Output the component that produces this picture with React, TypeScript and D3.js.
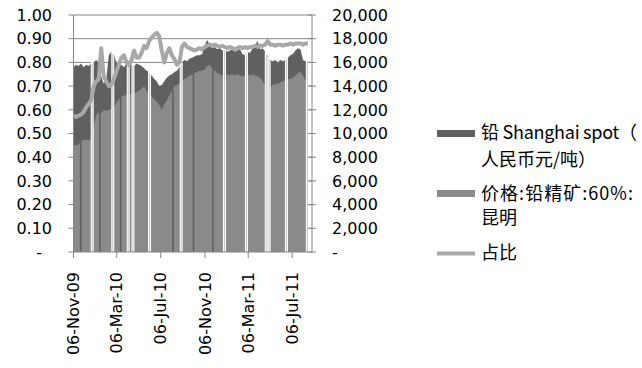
import * as d3 from "d3";

// weekly samples
const dates = [
  "2009-11-06", "2009-11-13", "2009-11-20", "2009-11-27", "2009-12-04", "2009-12-11", "2009-12-18", "2009-12-25",
  "2010-01-01", "2010-01-08", "2010-01-15", "2010-01-22", "2010-01-29", "2010-02-05", "2010-02-12", "2010-02-19",
  "2010-02-26", "2010-03-05", "2010-03-12", "2010-03-19", "2010-03-26", "2010-04-02", "2010-04-09", "2010-04-16",
  "2010-04-23", "2010-04-30", "2010-05-07", "2010-05-14", "2010-05-21", "2010-05-28", "2010-06-04", "2010-06-11",
  "2010-06-18", "2010-06-25", "2010-07-02", "2010-07-09", "2010-07-16", "2010-07-23", "2010-07-30", "2010-08-06",
  "2010-08-13", "2010-08-20", "2010-08-27", "2010-09-03", "2010-09-10", "2010-09-17", "2010-09-24", "2010-10-01",
  "2010-10-08", "2010-10-15", "2010-10-22", "2010-10-29", "2010-11-05", "2010-11-12", "2010-11-19", "2010-11-26",
  "2010-12-03", "2010-12-10", "2010-12-17", "2010-12-24", "2010-12-31", "2011-01-07", "2011-01-14", "2011-01-21",
  "2011-01-28", "2011-02-04", "2011-02-11", "2011-02-18", "2011-02-25", "2011-03-04", "2011-03-11", "2011-03-18",
  "2011-03-25", "2011-04-01", "2011-04-08", "2011-04-15", "2011-04-22", "2011-04-29", "2011-05-06", "2011-05-13",
  "2011-05-20", "2011-05-27", "2011-06-03", "2011-06-10", "2011-06-17", "2011-06-24", "2011-07-01", "2011-07-08",
  "2011-07-15", "2011-07-22", "2011-07-29", "2011-08-05", "2011-08-12", "2011-08-19",
];

// 铅 Shanghai spot (元/吨)
const spot = [
  15600, 15800, 15700, 15900, 15600, 15800, 15700, 15900, 16000, 16200, 16000, 14800, 14200, 14600, 16600, 16900,
  16700, 16000, 15700, 15800, 15600, 15900, 15800, 16000, 15700, 15900, 15800, 15700, 15500, 15300, 15200, 14900,
  14600, 14400, 14000, 14100, 14400, 14700, 14900, 15000, 15200, 15300, 15600, 16000, 16200, 16100, 16300, 16400,
  16500, 16600, 16600, 16700, 17400, 17900, 17500, 17200, 17300, 17100, 17200, 17000, 17100, 16900, 17000, 17100,
  16900, 17000, 17100, 16700, 16600, 16900, 16800, 17200, 17400, 17800, 17100, 17200, 16900, 16600, 16200, 16100,
  16200, 16000, 16200, 16100, 16200, 16400, 16600, 16700, 17000, 17200, 17100, 16200, 16100, 16200,
];

// 价格:铅精矿:60%:昆明
const concentrate = [
  9000, 9000, 9100, 9400, 9400, 9500, 9400, 9600, 10600, 11600, 11800, 11700, 12000, 11900, 12000, 12100,
  12200, 12600, 12900, 13100, 13200, 13300, 13400, 13300, 13400, 13500, 13600, 13800, 14000, 13600, 13300, 13100,
  12900, 12700, 12400, 12000, 12500, 12800, 13200, 13600, 14000, 14100, 14200, 14400, 14600, 14700, 14900, 15000,
  15100, 15200, 15300, 15300, 15400, 15700, 15800, 15500, 15300, 15100, 15000, 14900, 14900, 15000, 14900, 15000,
  14900, 15000, 14900, 14800, 14900, 15000, 14900, 15000, 14900, 14800, 14700, 14400, 14100, 14000, 13900, 14100,
  14200, 14200, 14300, 14400, 14500, 14600, 14600, 14700, 14900, 15100, 15200, 14900, 14500, 14400,
];

// 占比
const ratio = [
  0.575, 0.57, 0.575, 0.58, 0.59, 0.61, 0.625, 0.64, 0.7, 0.72, 0.73, 0.86, 0.74, 0.72, 0.7, 0.705,
  0.73, 0.76, 0.79, 0.82, 0.83, 0.8, 0.79, 0.81, 0.85, 0.82, 0.82, 0.84, 0.87, 0.86, 0.89, 0.905,
  0.915, 0.925, 0.91, 0.85, 0.8, 0.84, 0.86, 0.83, 0.815, 0.79, 0.8, 0.865, 0.88, 0.865, 0.86, 0.855,
  0.85, 0.855, 0.86, 0.855, 0.865, 0.87, 0.875, 0.87, 0.875, 0.87, 0.865, 0.87, 0.865, 0.86, 0.865, 0.86,
  0.855, 0.86, 0.865, 0.86, 0.865, 0.86, 0.865, 0.865, 0.87, 0.865, 0.87, 0.87, 0.875, 0.89, 0.875, 0.875,
  0.87, 0.875, 0.875, 0.87, 0.875, 0.875, 0.88, 0.875, 0.88, 0.88, 0.88, 0.875, 0.88, 0.88,
];

// days with no quote for either series (white gaps) / only the concentrate missing
const gapDates = [
  "2009-12-28", "2010-02-23", "2010-04-07", "2010-04-20", "2010-06-05", "2010-09-01",
  "2010-12-30", "2011-03-01", "2011-04-25", "2011-05-03", "2011-06-20", "2011-08-17",
];
const concGapDates = ["2009-11-26", "2010-01-18", "2010-03-17", "2010-08-09", "2010-10-05", "2010-11-28"];

const tickDates = ["2009-11-06", "2010-03-06", "2010-07-06", "2010-11-06", "2011-03-06", "2011-07-06"];
const leftTicks = [0, 0.1, 0.2, 0.3, 0.4, 0.5, 0.6, 0.7, 0.8, 0.9, 1.0];
const rightTicks = [0, 2000, 4000, 6000, 8000, 10000, 12000, 14000, 16000, 18000, 20000];

const parse = d3.timeParse("%Y-%m-%d");
const fmtDate = d3.timeFormat("%d-%b-%y");

const DARK = "#606060";
const LIGHT = "#8a8a8a";
const LINE = "#a8a8a8";
const GRID = "#868686";
const FONT = "'DejaVu Sans', sans-serif";
const CJK = "'Noto Sans CJK SC', sans-serif";

export default function App() {
  const width = 642, height = 368;
  const plot = { left: 73.5, right: 312, top: 15, bottom: 252 };

  const x = d3.scaleTime()
    .domain([parse("2009-11-06")!, parse("2011-08-30")!])
    .range([plot.left, plot.right]);
  const yL = d3.scaleLinear().domain([0, 1]).range([plot.bottom, plot.top]);
  const yR = d3.scaleLinear().domain([0, 20000]).range([plot.bottom, plot.top]);

  const ds = dates.map((d) => parse(d)!);
  const spotData = ds.map((d, i) => ({ date: d, v: spot[i] }));
  const concData = ds.map((d, i) => ({ date: d, v: concentrate[i] }));
  const ratioData = ds.map((d, i) => ({ date: d, v: ratio[i] }));

  const area = d3.area<{ date: Date; v: number }>()
    .x((d) => x(d.date))
    .y0(yR(0))
    .y1((d) => yR(d.v));
  const line = d3.line<{ date: Date; v: number }>()
    .x((d) => x(d.date))
    .y((d) => yL(d.v));

  const bis = d3.bisector((d: { date: Date }) => d.date).left;
  const valueAt = (data: { date: Date; v: number }[], date: Date) => {
    const i = Math.min(Math.max(bis(data, date), 1), data.length - 1);
    const a = data[i - 1], b = data[i];
    const t = (+date - +a.date) / (+b.date - +a.date);
    return a.v + (b.v - a.v) * Math.max(0, Math.min(1, t));
  };

  return (
    <svg width={width} height={height} style={{ position: "absolute", left: 0, top: 0, background: "#fff" }}>
      {/* gridlines */}
      {leftTicks.slice(1).map((t) => (
        <line key={"g" + t} x1={plot.left} x2={plot.right} y1={yL(t)} y2={yL(t)} stroke={GRID} strokeWidth={1} />
      ))}

      <path d={area(spotData)!} fill={DARK} />
      <path d={area(concData)!} fill={LIGHT} />

      {concGapDates.map((s) => {
        const d = parse(s)!;
        return (
          <rect key={s} x={x(d) - 0.8} width={1.6} y={yR(valueAt(concData, d))}
            height={yR(0) - yR(valueAt(concData, d))} fill={DARK} />
        );
      })}
      {gapDates.map((s) => {
        const d = parse(s)!;
        const top = yR(valueAt(spotData, d)) - 1;
        return (
          <g key={s}>
            <rect x={x(d) - 1.5} width={3} y={top} height={yR(0) - top} fill="#fff" />
            <line x1={x(d)} x2={x(d)} y1={top + 2} y2={yR(0)} stroke="#c4c4c4" strokeWidth={1} />
          </g>
        );
      })}

      <path d={line(ratioData)!} fill="none" stroke={LINE} strokeWidth={4} strokeLinejoin="round" />

      {/* axes */}
      <line x1={plot.left} x2={plot.left} y1={plot.top} y2={plot.bottom} stroke={GRID} />
      <line x1={plot.right} x2={plot.right} y1={plot.top} y2={plot.bottom} stroke={GRID} />
      <line x1={plot.left} x2={plot.right} y1={plot.bottom} y2={plot.bottom} stroke={GRID} />

      {leftTicks.map((t) => (
        <g key={"l" + t}>
          <line x1={plot.left - 5} x2={plot.left} y1={yL(t)} y2={yL(t)} stroke={GRID} />
          <text x={t === 0 ? 42 : 52} y={yL(t)} dy="0.36em" textAnchor="end" fontFamily={FONT} fontSize={16} fill="#000">
            {t === 0 ? "-" : d3.format(".2f")(t)}
          </text>
        </g>
      ))}
      {rightTicks.map((t) => (
        <g key={"r" + t}>
          <line x1={plot.right - 4} x2={plot.right + 4} y1={yR(t)} y2={yR(t)} stroke={GRID} />
          <text x={332} y={yR(t)} dy="0.36em" textAnchor="start" fontFamily={FONT} fontSize={16} fill="#000">
            {t === 0 ? "-" : d3.format(",")(t)}
          </text>
        </g>
      ))}
      {tickDates.map((s) => {
        const d = parse(s)!;
        const tx = x(d);
        return (
          <g key={s}>
            <line x1={tx} x2={tx} y1={plot.bottom} y2={plot.bottom + 6} stroke={GRID} />
            <text transform={`translate(${tx},272) rotate(-90)`} dy="0.36em" textAnchor="end"
              fontFamily={FONT} fontSize={16} fill="#000">
              {fmtDate(d)}
            </text>
          </g>
        );
      })}

      {/* legend */}
      <g fontFamily={CJK} fontSize={18} fill="#000">
        <rect x={437} y={130} width={38} height={7} fill={DARK} />
        <text x={481} y={133} dy="0.36em" textLength={156} lengthAdjust="spacing">铅 Shanghai spot（</text>
        <text x={481} y={160} dy="0.36em">人民币元/吨）</text>
        <rect x={437} y={190} width={38} height={7} fill={LIGHT} />
        <text x={481} y={194} dy="0.36em" textLength={152} lengthAdjust="spacing">价格:铅精矿:60%:</text>
        <text x={481} y={218} dy="0.36em">昆明</text>
        <line x1={437} x2={475} y1={253.5} y2={253.5} stroke={LINE} strokeWidth={4} />
        <text x={481} y={253} dy="0.36em">占比</text>
      </g>
    </svg>
  );
}
